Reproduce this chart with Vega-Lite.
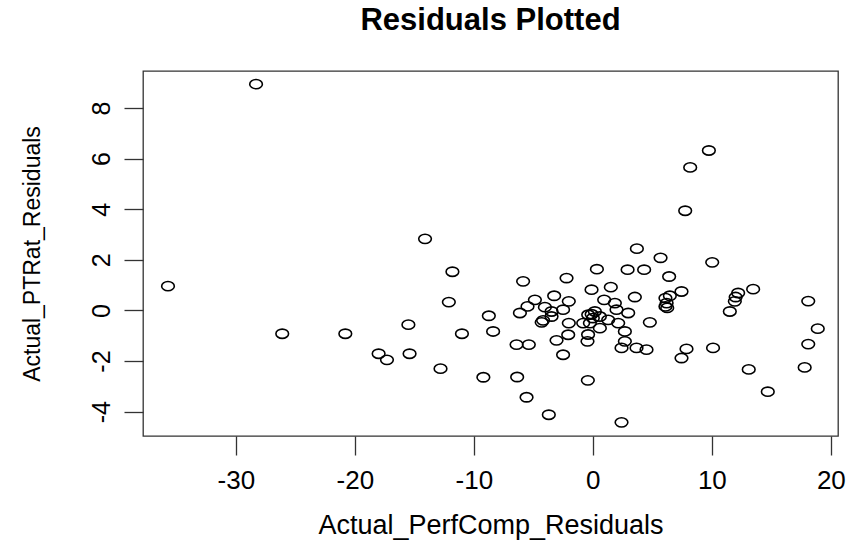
{
  "$schema": "https://vega.github.io/schema/vega-lite/v6.json",
  "autosize": "none",
  "padding": {"left": 143, "top": 71, "right": 17, "bottom": 107},
  "width": 695,
  "height": 365,
  "background": "white",
  "config": {"view": {"stroke": "#333", "strokeWidth": 1.3}},
  "title": {"text": "Residuals Plotted", "font": "Liberation Sans", "fontWeight": "bold", "fontSize": 31, "color": "black", "anchor": "middle", "offset": 34},
  "data": {"values": [
    {"x": -35.7, "y": 0.96}, {"x": -28.3, "y": 8.94}, {"x": -26.1, "y": -0.92}, {"x": -20.8, "y": -0.92},
    {"x": -18.0, "y": -1.71}, {"x": -17.3, "y": -1.95}, {"x": -15.5, "y": -0.56}, {"x": -15.4, "y": -1.71},
    {"x": -14.1, "y": 2.83}, {"x": -12.8, "y": -2.30}, {"x": -12.1, "y": 0.33}, {"x": -11.8, "y": 1.53},
    {"x": -11.0, "y": -0.92}, {"x": -9.2, "y": -2.64}, {"x": -8.74, "y": -0.21}, {"x": -8.38, "y": -0.83},
    {"x": -6.36, "y": -2.63}, {"x": -5.57, "y": -3.43}, {"x": -3.70, "y": -4.12}, {"x": -0.42, "y": -2.76},
    {"x": 2.41, "y": -4.42},
    {"x": -5.86, "y": 1.15}, {"x": -2.21, "y": 1.28}, {"x": -4.87, "y": 0.42}, {"x": -3.25, "y": 0.58},
    {"x": -2.02, "y": 0.36}, {"x": -5.49, "y": 0.16}, {"x": -6.13, "y": -0.10}, {"x": -4.03, "y": 0.13},
    {"x": -3.47, "y": -0.04}, {"x": -2.5, "y": 0.03}, {"x": -4.18, "y": -0.39}, {"x": -4.3, "y": -0.47},
    {"x": -3.47, "y": -0.24}, {"x": -2.02, "y": -0.50}, {"x": -0.81, "y": -0.50}, {"x": -0.39, "y": -0.17},
    {"x": -2.07, "y": -0.96}, {"x": -3.05, "y": -1.18}, {"x": -6.41, "y": -1.35}, {"x": -5.38, "y": -1.35},
    {"x": -2.5, "y": -1.75}, {"x": -0.45, "y": -1.22}, {"x": -0.4, "y": -0.95},
    {"x": 0.34, "y": 1.63}, {"x": 2.92, "y": 1.61}, {"x": 4.31, "y": 1.61}, {"x": 6.41, "y": 1.34},
    {"x": 1.51, "y": 0.92}, {"x": -0.11, "y": 0.82}, {"x": 3.53, "y": 0.53}, {"x": 0.95, "y": 0.42},
    {"x": 1.85, "y": 0.29}, {"x": 1.99, "y": 0.03}, {"x": 2.97, "y": -0.10}, {"x": 0.17, "y": -0.04},
    {"x": 0.59, "y": -0.24}, {"x": 1.29, "y": -0.37}, {"x": 2.13, "y": -0.50}, {"x": -0.25, "y": -0.50},
    {"x": 0.59, "y": -0.70}, {"x": 4.79, "y": -0.47}, {"x": 2.69, "y": -0.83}, {"x": 2.69, "y": -1.22},
    {"x": 2.41, "y": -1.48}, {"x": 3.67, "y": -1.48}, {"x": 4.51, "y": -1.55}, {"x": 0.0, "y": -0.3},
    {"x": -0.1, "y": -0.15},
    {"x": 6.1, "y": 0.49}, {"x": 6.2, "y": 0.29}, {"x": 6.1, "y": 0.16}, {"x": 6.25, "y": 0.1},
    {"x": 6.47, "y": 0.58}, {"x": 7.45, "y": 0.75}, {"x": 5.69, "y": 2.08}, {"x": 3.70, "y": 2.44},
    {"x": 7.76, "y": 3.94}, {"x": 8.18, "y": 5.65}, {"x": 9.75, "y": 6.32}, {"x": 10.03, "y": 1.90},
    {"x": 12.21, "y": 0.69}, {"x": 12.0, "y": 0.53}, {"x": 11.93, "y": 0.36}, {"x": 11.51, "y": -0.04},
    {"x": 13.47, "y": 0.84}, {"x": 7.87, "y": -1.52}, {"x": 10.1, "y": -1.48}, {"x": 7.45, "y": -1.88},
    {"x": 18.1, "y": 0.37}, {"x": 18.9, "y": -0.72}, {"x": 18.1, "y": -1.33}, {"x": 17.8, "y": -2.25},
    {"x": 13.1, "y": -2.33}, {"x": 14.7, "y": -3.21}
  ]},
  "mark": {"type": "point", "shape": "M-1,0A1,0.73,0,1,1,1,0A1,0.73,0,1,1,-1,0Z", "size": 160, "filled": false, "stroke": "black", "strokeWidth": 1.6, "opacity": 1},
  "encoding": {
    "x": {"field": "x", "type": "quantitative", "scale": {"domain": [-37.8, 20.6], "nice": false, "zero": false},
      "axis": {"values": [-30, -20, -10, 0, 10, 20], "labelExpr": "'' + datum.value", "grid": false, "domain": false, "tickSize": 19, "tickColor": "#333", "tickWidth": 1.3,
        "labelFont": "Liberation Sans", "labelFontSize": 26, "labelColor": "black", "labelPadding": 12,
        "title": "Actual_PerfComp_Residuals", "titleFont": "Liberation Sans", "titleFontSize": 27, "titleFontWeight": "normal", "titleColor": "black", "titlePadding": 19}},
    "y": {"field": "y", "type": "quantitative", "scale": {"domain": [-4.96, 9.46], "nice": false, "zero": false},
      "axis": {"values": [-4, -2, 0, 2, 4, 6, 8], "labelExpr": "'' + datum.value", "grid": false, "domain": false, "tickSize": 19, "tickColor": "#333", "tickWidth": 1.3,
        "labelFont": "Liberation Sans", "labelFontSize": 25, "labelColor": "black", "labelAngle": -90, "labelPadding": 10,
        "title": "Actual_PTRat_Residuals", "titleFont": "Liberation Sans", "titleFontSize": 23, "titleFontWeight": "normal", "titleColor": "black", "titlePadding": 45}}
  }
}
